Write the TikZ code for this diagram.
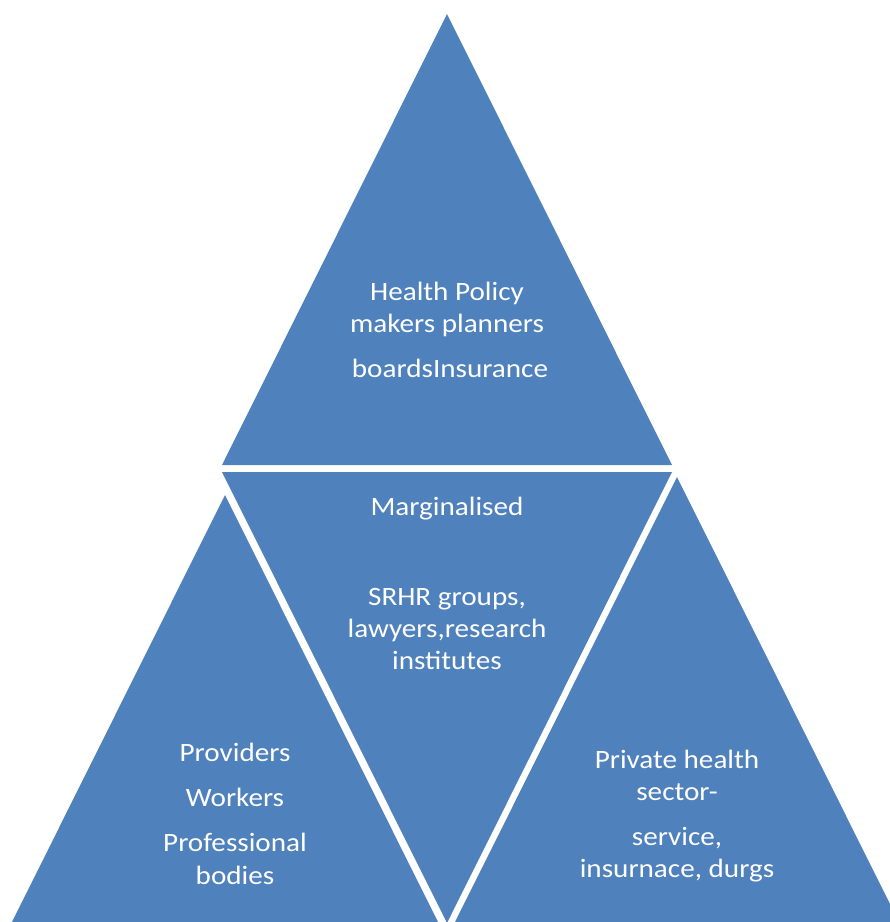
\documentclass[tikz,border=0pt]{standalone}
\usepackage{fontspec}
\setmainfont{Carlito}[FakeStretch=1.10]
\definecolor{tri}{HTML}{4F81BD}
\begin{document}
\begin{tikzpicture}[x=1pt,y=-1pt,
  tribox/.style={fill=tri,draw=none},
  lbl/.style={text=white,font=\fontsize{26.5}{30}\selectfont,anchor=base,inner sep=0pt}]
\useasboundingbox (0,0) rectangle (890,922);
\begin{scope}
\clip (0,0) rectangle (890,922);
\fill[tribox] (447,14) -- (672,465) -- (222,465) -- cycle;
\fill[tribox] (222,472) -- (672,472) -- (447,923) -- cycle;
\fill[tribox] (225,495) -- (450,946) -- (0,946) -- cycle;
\fill[tribox] (677,477) -- (902,928) -- (452,928) -- cycle;
\end{scope}
\node[lbl] (t1) at (447,300) {Health Policy};
\node[lbl] (t2) at (447,332) {makers planners};
\node[lbl] (t3) at (450,377) {boardsInsurance};
\node[lbl] (m1) at (447,515) {Marginalised};
\node[lbl] (m2) at (447,605) {SRHR groups,};
\node[lbl] (m3) at (447,637) {lawyers,research};
\node[lbl] (m4) at (447,669) {institutes};
\node[lbl] (l1) at (235,761) {Providers};
\node[lbl] (l2) at (235,806) {Workers};
\node[lbl] (l3) at (235,851) {Professional};
\node[lbl] (l4) at (235,884) {bodies};
\node[lbl] (r1) at (677,768) {Private health};
\node[lbl] (r2) at (677,800) {sector-};
\node[lbl] (r3) at (677,845) {service,};
\node[lbl] (r4) at (677,877) {insurnace, durgs};
\end{tikzpicture}
\end{document}
